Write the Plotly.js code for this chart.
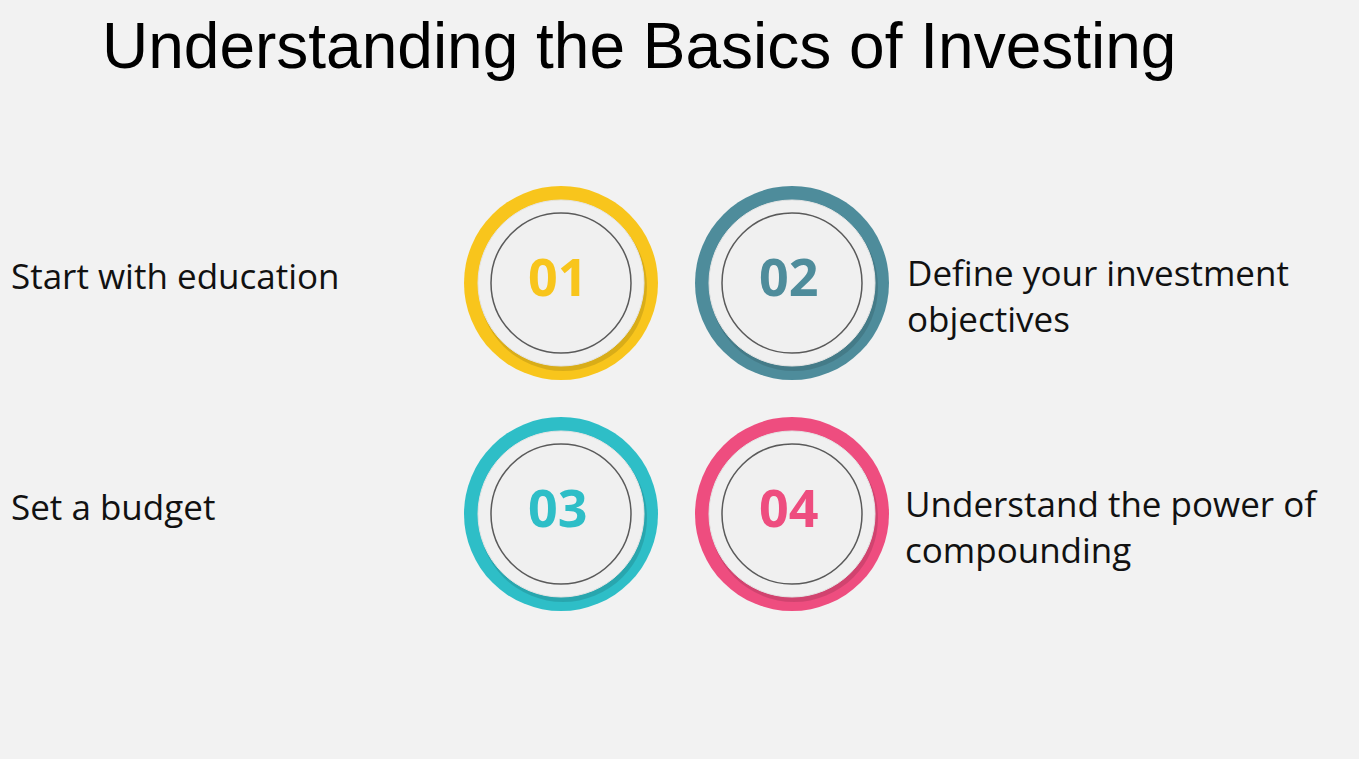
<!DOCTYPE html>
<html>
<head>
<meta charset="utf-8">
<script src="https://cdn.plot.ly/plotly-3.0.1.min.js"></script>
<style>html,body{margin:0;padding:0;background:#f2f2f2;}</style>
</head>
<body>
<div id="chart" style="width:1359px;height:759px;"></div>
<script>
// Infographic data
const stepNumbers = ["01", "02", "03", "04"];
const stepColors = ["#F8C51C", "#4E8C9B", "#2EBEC7", "#EE4D7F"];
const stepLabels = [
  "Start with education",
  "Define your investment<br>objectives",
  "Set a budget",
  "Understand the power of<br>compounding",
];
const titleText = "Understanding the Basics of Investing";

// layout grid (pixel-space axes)
const cx = [561, 792, 561, 792];
const cy = [283, 283, 514, 514];
const labelX = [9, 905, 9, 903];

const shapes = [];
const annotations = [];
const circ = (x, y, r, fill, line, w) => ({
  type: "circle", xref: "x", yref: "y",
  x0: x - r, x1: x + r, y0: y - r, y1: y + r,
  fillcolor: fill, line: { color: line, width: w }, layer: "above",
});

stepNumbers.forEach((num, i) => {
  shapes.push(circ(cx[i], cy[i], 97, stepColors[i], stepColors[i], 0));
  // soft shadow under inner disc
  shapes.push(circ(cx[i] + 2, cy[i] + 4, 84, "rgba(0,0,0,0.12)", "rgba(0,0,0,0)", 0));
  shapes.push(circ(cx[i], cy[i], 83, "#f0f0f0", "#e4e4e4", 1));
  shapes.push(circ(cx[i], cy[i], 70, "rgba(0,0,0,0)", "#5a5a5a", 1.5));
  annotations.push({
    x: cx[i] - 4, y: cy[i] - 8, xref: "x", yref: "y", text: "<b>" + num + "</b>",
    showarrow: false, font: { family: "Open Sans", size: 52, color: stepColors[i] },
  });
  annotations.push({
    x: labelX[i], y: cy[i] + (stepLabels[i].includes("<br>") ? 12 : -8),
    xref: "x", yref: "y", xanchor: "left", yanchor: "middle", align: "left",
    text: stepLabels[i], showarrow: false,
    font: { family: "Open Sans", size: 35, color: "#111" },
  });
});

annotations.push({
  x: 100, y: 46, xref: "x", yref: "y", xanchor: "left", yanchor: "middle",
  text: titleText, showarrow: false,
  font: { family: "Liberation Sans", size: 64, color: "#000" },
});

const layout = {
  width: 1359, height: 759,
  margin: { l: 0, r: 0, t: 0, b: 0 },
  paper_bgcolor: "#f2f2f2", plot_bgcolor: "#f2f2f2",
  xaxis: { range: [0, 1359], visible: false, fixedrange: true },
  yaxis: { range: [759, 0], visible: false, fixedrange: true },
  shapes, annotations, showlegend: false,
};

Plotly.newPlot("chart", [{ x: [], y: [], type: "scatter" }], layout, { staticPlot: true });
</script>
</body>
</html>
